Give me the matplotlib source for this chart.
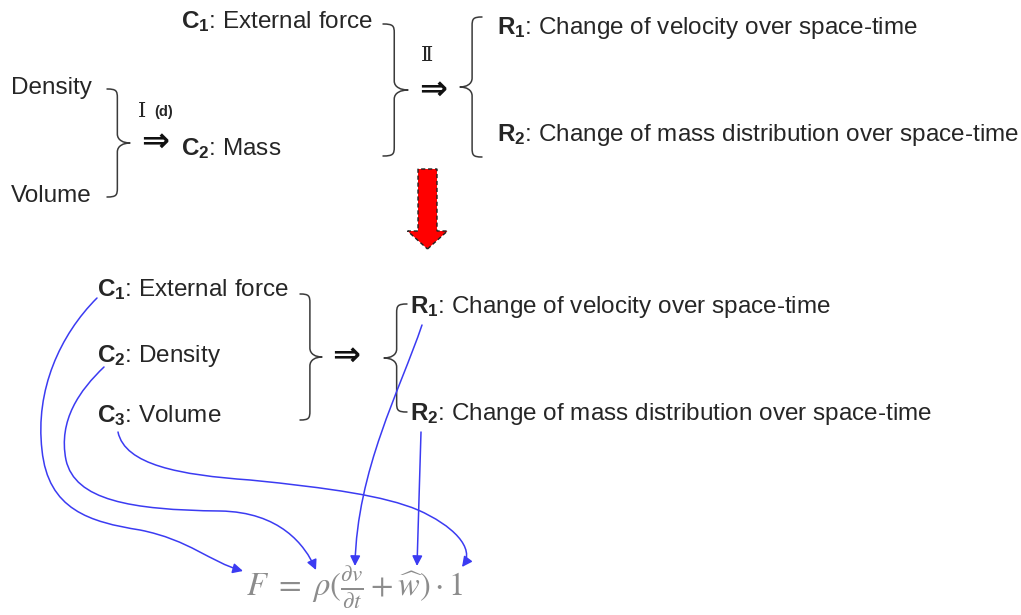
import matplotlib
matplotlib.use('Agg')
import matplotlib.pyplot as plt
from matplotlib.path import Path
from matplotlib.patches import PathPatch, FancyArrowPatch, FancyArrow

plt.rcParams['font.family'] = ['Liberation Sans', 'DejaVu Sans']
plt.rcParams['mathtext.fontset'] = 'custom'
plt.rcParams['mathtext.rm'] = 'Liberation Sans'
plt.rcParams['mathtext.bf'] = 'Liberation Sans:bold'
plt.rcParams['mathtext.it'] = 'Liberation Sans:italic'

# ---- content ----
top_inputs = ['Density', 'Volume']
top_conditions = [('C', '1', 'External force'), ('C', '2', 'Mass')]
results = [('R', '1', 'Change of velocity over space-time'),
           ('R', '2', 'Change of mass distribution over space-time')]
bottom_conditions = [('C', '1', 'External force'), ('C', '2', 'Density'), ('C', '3', 'Volume')]
step_numerals = ['\u2160', '(d)', '\u2161']
implies = '\u21d2'
formula = r'$F\ =\ \rho(\frac{\partial v}{\partial t}+\widehat{w})\cdot 1$'

TEXT = '#262626'
BLUE = '#3b3bf2'
FS = 17.5

fig = plt.figure(figsize=(10.21, 6.15), dpi=100)
ax = fig.add_axes([0, 0, 1, 1])
ax.set_xlim(0, 1021)
ax.set_ylim(615, 0)
ax.axis('off')


def label(x, y, item, **kw):
    letter, sub, rest = item
    s = r'$\mathbf{%s}_{\mathbf{%s}}$: %s' % (letter, sub, rest)
    ax.text(x, y, s, fontsize=FS, color=TEXT, ha='left', va='baseline',
            math_fontfamily='custom', **kw)


def brace(x_edge, y0, y1, x_tip, r=9, lw=1.1, color='#3a3a3a'):
    ym = (y0 + y1) / 2
    xm = x_edge + (x_tip - x_edge) * 0.45
    verts = [(x_edge, y0),
             (xm - (xm - x_edge) * 0.1, y0), (xm, y0 + r * 0.2), (xm, y0 + r),
             (xm, ym - r),
             (xm, ym - r * 0.3), (xm + (x_tip - xm) * 0.5, ym), (x_tip, ym),
             (xm + (x_tip - xm) * 0.5, ym), (xm, ym + r * 0.3), (xm, ym + r),
             (xm, y1 - r),
             (xm, y1 - r * 0.2), (xm - (xm - x_edge) * 0.1, y1), (x_edge, y1)]
    codes = [Path.MOVETO,
             Path.CURVE4, Path.CURVE4, Path.CURVE4,
             Path.LINETO,
             Path.CURVE4, Path.CURVE4, Path.CURVE4,
             Path.CURVE4, Path.CURVE4, Path.CURVE4,
             Path.LINETO,
             Path.CURVE4, Path.CURVE4, Path.CURVE4]
    ax.add_patch(PathPatch(Path(verts, codes), fill=False, lw=lw, edgecolor=color,
                           capstyle='round', joinstyle='round'))


def arrow_sym(x, y, fs=24):
    ax.text(x, y, implies, fontsize=fs, color='#111111', ha='center', va='center',
            family=['DejaVu Sans'], fontweight='bold')


# ---- top section ----
for item, (x, y) in zip(top_inputs, [(11, 94), (11, 202)]):
    ax.text(x, y, item, fontsize=FS, color=TEXT, ha='left', va='baseline')
brace(107, 89, 197, 130)
ax.text(138, 117, step_numerals[0], fontsize=15, color=TEXT, ha='left', va='baseline',
        family=['DejaVu Serif'])
ax.text(154, 116, step_numerals[1], fontsize=10.5, color=TEXT, ha='left', va='baseline',
        fontweight='bold')
arrow_sym(155, 141)

label(181, 28, top_conditions[0])
label(181, 155, top_conditions[1])
brace(383, 24, 156, 408)
ax.text(427, 61, step_numerals[2], fontsize=15, color=TEXT, ha='center', va='baseline',
        family=['DejaVu Serif'])
arrow_sym(433, 89)
brace(482, 17, 157, 460)
label(497, 34, results[0])
label(497, 141, results[1])

# red arrow
ax.add_patch(FancyArrow(427.5, 169, 0, 80, width=19, head_width=40, head_length=18,
                        length_includes_head=True, facecolor='#ff0000', edgecolor='#222222',
                        linestyle=(0, (3, 2)), lw=1.0))

# ---- bottom section ----
for item, y in zip(bottom_conditions, [296, 362, 422]):
    label(97, y, item)
brace(300, 294, 420, 322)
arrow_sym(346, 355)
brace(407, 304, 412, 384)
label(410, 313, results[0])
label(410, 420, results[1])

ax.text(246, 596, formula, fontsize=23.5, color='#8c8c8c', ha='left', va='baseline',
        math_fontfamily='stix')

# ---- blue connectors ----
C4 = Path.CURVE4
connectors = [
    ([(97, 298), (60, 335), (35, 390), (42, 450),
      (48, 510), (90, 522), (140, 530),
      (190, 540), (210, 562), (243, 571)],
     [Path.MOVETO, C4, C4, C4, C4, C4, C4, C4, C4, C4]),
    ([(104, 367), (80, 390), (58, 420), (66, 460),
      (75, 500), (130, 510), (220, 511),
      (280, 512), (305, 545), (316, 570)],
     [Path.MOVETO, C4, C4, C4, C4, C4, C4, C4, C4, C4]),
    ([(118, 432), (125, 465), (180, 475), (250, 480),
      (330, 488), (385, 496), (418, 510),
      (452, 525), (476, 548), (462, 567)],
     [Path.MOVETO, C4, C4, C4, C4, C4, C4, C4, C4, C4]),
    ([(422, 325), (400, 390), (357, 470), (355, 566)],
     [Path.MOVETO, C4, C4, C4]),
    ([(421, 432), (417, 566)],
     [Path.MOVETO, Path.LINETO]),
]
for verts, codes in connectors:
    ax.add_patch(FancyArrowPatch(path=Path(verts, codes),
                                 arrowstyle='-|>,head_length=0.6,head_width=0.3',
                                 mutation_scale=10, color=BLUE, lw=1.1,
                                 shrinkA=0, shrinkB=0))

fig.savefig('out.png', dpi=100)
